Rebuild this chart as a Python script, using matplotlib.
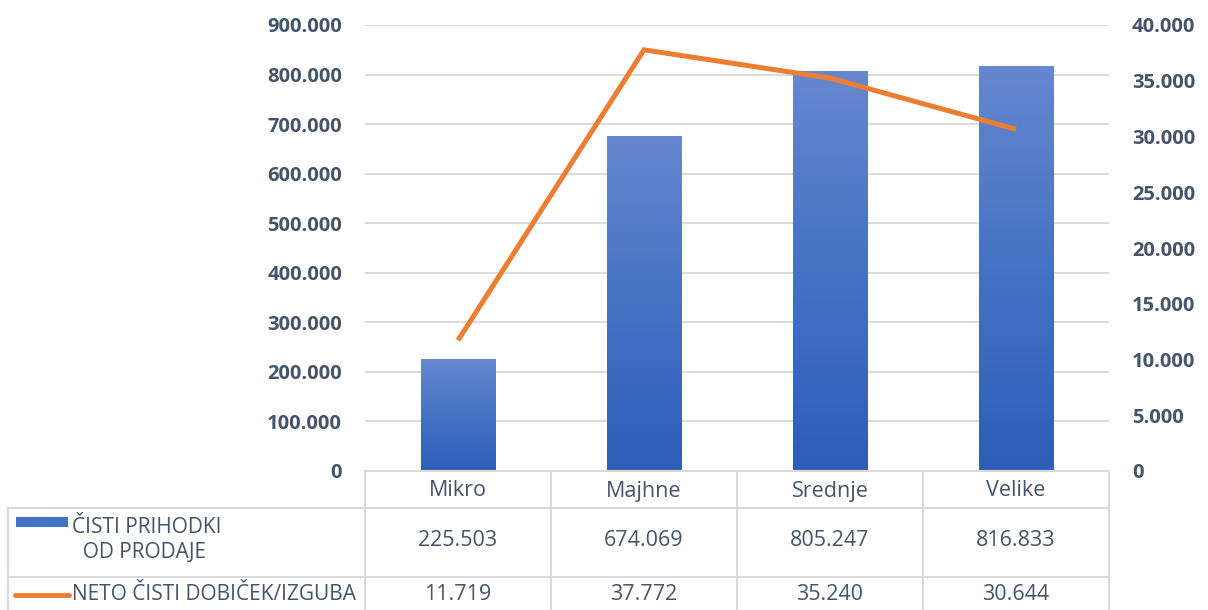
import numpy as np
import matplotlib.pyplot as plt
import matplotlib.transforms as mtransforms
from matplotlib.colors import LinearSegmentedColormap

plt.rcParams['font.family'] = ['Open Sans', 'DejaVu Sans']

categories = ['Mikro', 'Majhne', 'Srednje', 'Velike']
prihodki = [225503, 674069, 805247, 816833]
dobicek = [11719, 37772, 35240, 30644]
series_names = ['ČISTI PRIHODKI\n  OD PRODAJE', 'NETO ČISTI DOBIČEK/IZGUBA']

text_col = '#44546A'
grid_col = '#D9D9D9'
orange = '#ED7D31'


def fmt(v):
    return '{:,}'.format(int(v)).replace(',', '.')


fig = plt.figure(figsize=(12.08, 6.10), dpi=100)
W, H = 1208, 610
ax = fig.add_axes([365 / W, (H - 471) / H, (1109 - 365) / W, (471 - 25) / H])
ax2 = ax.twinx()

x = np.arange(len(categories))
bw = 0.40

# gradient bars
cmap = LinearSegmentedColormap.from_list('g', ['#2E5DB8', '#4472C4', '#6787CF'])
grad = np.linspace(0, 1, 256).reshape(-1, 1)
bars = ax.bar(x, prihodki, width=bw, color='none', zorder=2)
for b in bars:
    ax.imshow(grad, cmap=cmap, aspect='auto', origin='lower',
              extent=[b.get_x(), b.get_x() + b.get_width(), 0, b.get_height()],
              zorder=2)
ax.set_xlim(-0.5, len(categories) - 0.5)
ax.set_ylim(0, 900000)
ax2.set_ylim(0, 40000)

ax2.plot(x, dobicek, color=orange, lw=3.6, solid_capstyle='butt',
         solid_joinstyle='miter', zorder=3)

yt = np.arange(0, 900001, 100000)
ax.set_yticks(yt)
ax.set_yticklabels([fmt(v) for v in yt], fontsize=14.5, fontweight='bold', color=text_col)
yt2 = np.arange(0, 40001, 5000)
ax2.set_yticks(yt2)
ax2.set_yticklabels([fmt(v) for v in yt2], fontsize=14.5, fontweight='bold', color=text_col)
ax.tick_params(axis='y', length=0, pad=16.5)
ax2.tick_params(axis='y', length=0, pad=16.5)
ax.set_xticks([])
ax.grid(axis='y', color=grid_col, lw=1.3, zorder=0)
ax.set_axisbelow(True)
for a in (ax, ax2):
    for s in a.spines.values():
        s.set_visible(False)
ax.set_zorder(1)
ax2.set_zorder(2)
ax2.patch.set_visible(False)

# data table below the plot (x in data units, y in figure pixels)
tr = mtransforms.blended_transform_factory(ax.transData, fig.transFigure)


def py(p):
    return (H - p) / H


row_top, row1, row2, row_bot = 471, 508, 577, 615
lw = 1.5
left = 8 / W
x_left = -0.5
x_right = len(categories) - 0.5
ax.plot([x_left, x_right], [py(row_top)] * 2, transform=tr, color=grid_col, lw=lw, clip_on=False)
fig.add_artist(plt.Line2D([left, 1109 / W], [py(row1)] * 2, color=grid_col, lw=lw))
fig.add_artist(plt.Line2D([left, 1109 / W], [py(row2)] * 2, color=grid_col, lw=lw))
fig.add_artist(plt.Line2D([left, left], [py(row1), py(row_bot)], color=grid_col, lw=lw))
for i in range(len(categories) + 1):
    ax.plot([i - 0.5, i - 0.5], [py(row_top), py(row_bot)], transform=tr,
            color=grid_col, lw=lw, clip_on=False)

fs = 15.5
for i, c in enumerate(categories):
    ax.text(i, py(491), c, transform=tr, ha='center', va='center', fontsize=fs, color=text_col)
    ax.text(i, py(541), fmt(prihodki[i]), transform=tr, ha='center', va='center',
            fontsize=fs, color=text_col)
    ax.text(i, py(594), fmt(dobicek[i]), transform=tr, ha='center', va='center',
            fontsize=fs, color=text_col)

# legend keys
fig.add_artist(plt.Rectangle((16 / W, py(527)), 52 / W, 10 / H, transform=fig.transFigure,
                             color='#4472C4', ec='none'))
fig.add_artist(plt.Line2D([15 / W, 69 / W], [py(595)] * 2, color=orange, lw=3.5,
                          solid_capstyle='round'))
fig.text(72 / W, py(540), series_names[0], ha='left', va='center', fontsize=15,
         color=text_col, linespacing=1.3)
fig.text(72 / W, py(594), series_names[1], ha='left', va='center', fontsize=15,
         color=text_col)

fig.savefig('out.png', dpi=100, facecolor='white')
